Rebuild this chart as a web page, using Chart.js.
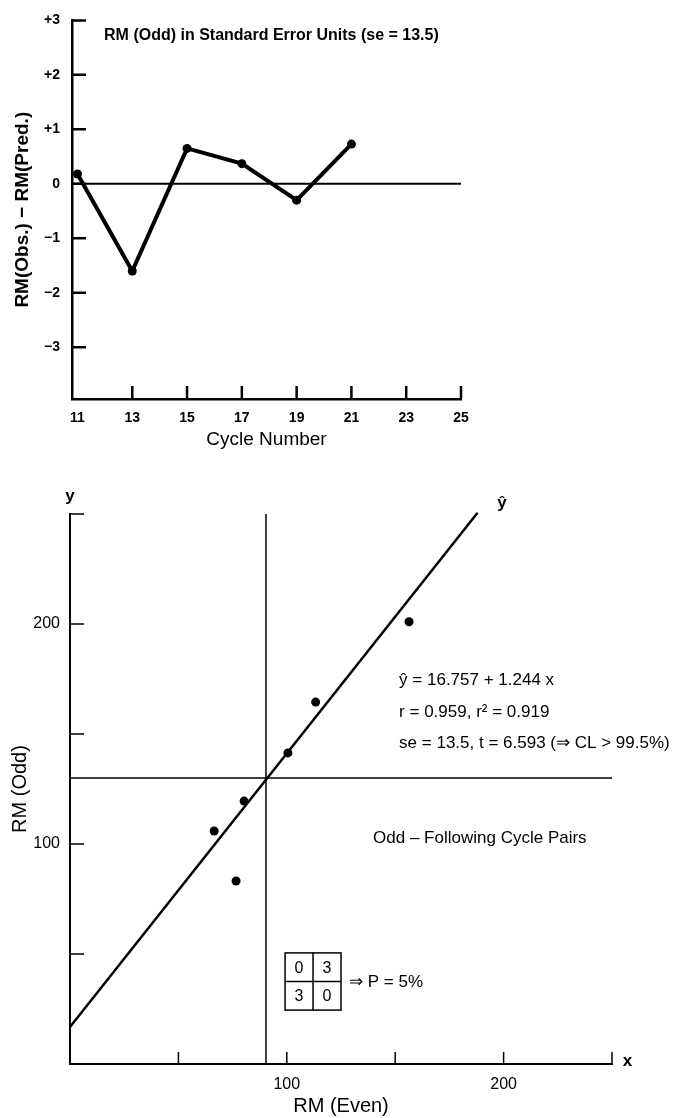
<!DOCTYPE html>
<html>
<head>
<meta charset="utf-8">
<script src="https://cdn.jsdelivr.net/npm/chart.js@4"></script>
<style>
  body { margin: 0; background: #fff; }
  canvas { position: absolute; left: 0; }
  #residual_chart { top: 0; }
  #pairs_chart { top: 455px; }
</style>
</head>
<body>
<canvas id="residual_chart" width="676" height="455"></canvas>
<canvas id="pairs_chart" width="676" height="663"></canvas>
<script>
// top panel: residuals in standard error units
const cycles = [11, 13, 15, 17, 19, 21];
const residuals = [0.18, -1.6, 0.65, 0.37, -0.3, 0.73];
const cycleTicks = [11, 13, 15, 17, 19, 21, 23, 25];
const residualTicks = [3, 2, 1, 0, -1, -2, -3];
const residualTickLabels = ['+3', '+2', '+1', '0', '−1', '−2', '−3'];

// bottom panel: RM(Odd) against RM(Even)
const rmEven = [66.5, 76.6, 80.3, 100.5, 113.3, 156.4];
const rmOdd = [105.9, 83.2, 119.5, 141.4, 164.5, 201];
const fitX = [0, 188];
const fitY = [16.8, 250.6];
const medianEven = 90.4;
const medianOdd = 130;
const rmTicks = [50, 100, 150, 200, 250];
const rmTickLabels = ['', '100', '', '200', ''];
const signTable = [[0, 3], [3, 0]];

Chart.defaults.font.family = "'Liberation Sans', Arial, sans-serif";
Chart.defaults.color = '#000';

// ticks point inwards on these plots, so draw them ourselves
const insideTicks = {
    id: 'insideTicks',
    afterDatasetsDraw(chart, args, opts) {
        const {ctx} = chart;
        const x = chart.scales.x, y = chart.scales.y;
        ctx.save();
        ctx.strokeStyle = '#000';
        ctx.lineWidth = opts.width;
        ctx.beginPath();
        x.ticks.forEach(t => {
            const px = x.getPixelForValue(t.value);
            if (px - x.left < 8) return;
            ctx.moveTo(px, x.top);
            ctx.lineTo(px, x.top - opts.xLen);
        });
        y.ticks.forEach(t => {
            const py = y.getPixelForValue(t.value);
            ctx.moveTo(y.right, py);
            ctx.lineTo(y.right + opts.yLen, py);
        });
        ctx.stroke();
        ctx.restore();
    }
};

// free text placed with the chart's own scales
const notes = {
    id: 'notes',
    afterDraw(chart, args, opts) {
        const {ctx} = chart;
        const x = chart.scales.x, y = chart.scales.y;
        ctx.save();
        ctx.fillStyle = '#000';
        ctx.textBaseline = 'middle';
        (opts.texts || []).forEach(n => {
            ctx.font = n.font;
            ctx.textAlign = n.align || 'left';
            ctx.fillText(n.text, x.getPixelForValue(n.x), y.getPixelForValue(n.y));
        });
        if (opts.table) {
            const b = opts.table;
            const l = x.getPixelForValue(b.x0), r = x.getPixelForValue(b.x1);
            const t = y.getPixelForValue(b.y0), bt = y.getPixelForValue(b.y1);
            const cw = (r - l) / 2, ch = (bt - t) / 2;
            ctx.lineWidth = 1.5;
            ctx.strokeRect(l, t, r - l, bt - t);
            ctx.beginPath();
            ctx.moveTo(l + cw, t); ctx.lineTo(l + cw, bt);
            ctx.moveTo(l, t + ch); ctx.lineTo(r, t + ch);
            ctx.stroke();
            ctx.font = '16px "Liberation Sans", Arial, sans-serif';
            ctx.textAlign = 'center';
            signTable.forEach((row, i) => row.forEach((v, j) => {
                ctx.fillText(String(v), l + cw * (j + 0.5), t + ch * (i + 0.5) + 1);
            }));
        }
        ctx.restore();
    }
};

new Chart(document.querySelector('#residual_chart'), {
    type: 'line',
    data: {
        datasets: [
            {
                data: cycles.map((c, i) => ({x: c, y: residuals[i]})),
                borderColor: '#000',
                backgroundColor: '#000',
                borderWidth: 4,
                pointRadius: 4.5,
                pointBorderWidth: 0,
                tension: 0
            },
            {
                // zero reference line
                data: [{x: 10.8, y: 0}, {x: 25, y: 0}],
                borderColor: '#000',
                borderWidth: 2,
                pointRadius: 0
            }
        ]
    },
    options: {
        responsive: false,
        animation: false,
        devicePixelRatio: 1,
        layout: {padding: {left: 0, top: 15, right: 215, bottom: 0}},
        plugins: {
            legend: false,
            tooltip: {enabled: false},
            insideTicks: {width: 2.5, xLen: 13, yLen: 14},
            notes: {
                texts: [
                    {text: 'RM (Odd) in Standard Error Units (se = 13.5)', x: 11.97, y: 2.73,
                        font: 'bold 16px "Liberation Sans", Arial, sans-serif'}
                ]
            }
        },
        scales: {
            x: {
                type: 'linear',
                min: 10.8,
                max: 25,
                afterBuildTicks: scale => { scale.ticks = cycleTicks.map(v => ({value: v})) },
                afterFit: scale => { scale.height = 56 },
                grid: {display: false},
                border: {display: true, color: '#000', width: 2.5},
                ticks: {
                    autoSkip: false,
                    maxRotation: 0,
                    padding: 3,
                    font: {size: 14, weight: 'bold'}
                },
                title: {
                    display: true,
                    text: 'Cycle Number',
                    font: {size: 19},
                    padding: {top: 0, bottom: 4}
                }
            },
            y: {
                min: -3.95,
                max: 3,
                afterBuildTicks: scale => { scale.ticks = residualTicks.map(v => ({value: v})) },
                afterFit: scale => { scale.width = 72 },
                grid: {display: false, drawTicks: false},
                border: {display: true, color: '#000', width: 2.5},
                ticks: {
                    padding: 12,
                    font: {size: 14, weight: 'bold'},
                    callback: v => residualTickLabels[residualTicks.indexOf(v)]
                },
                title: {
                    display: true,
                    text: 'RM(Obs.) − RM(Pred.)',
                    font: {size: 19, weight: 'bold'},
                    padding: {top: 11, bottom: 0}
                }
            }
        }
    },
    plugins: [insideTicks, notes]
});

new Chart(document.querySelector('#pairs_chart'), {
    type: 'scatter',
    data: {
        datasets: [
            {
                data: rmEven.map((v, i) => ({x: v, y: rmOdd[i]})),
                backgroundColor: '#000',
                borderWidth: 0,
                pointRadius: 4.5
            },
            {
                // least squares fit
                data: fitX.map((v, i) => ({x: v, y: fitY[i]})),
                showLine: true,
                borderColor: '#000',
                borderWidth: 2.5,
                pointRadius: 0,
                clip: false
            },
            {
                data: [{x: medianEven, y: 0}, {x: medianEven, y: 250}],
                showLine: true,
                borderColor: '#000',
                borderWidth: 1.5,
                pointRadius: 0
            },
            {
                data: [{x: 0, y: medianOdd}, {x: 250, y: medianOdd}],
                showLine: true,
                borderColor: '#000',
                borderWidth: 1.5,
                pointRadius: 0
            }
        ]
    },
    options: {
        responsive: false,
        animation: false,
        devicePixelRatio: 1,
        layout: {padding: {left: 0, top: 59, right: 64, bottom: 0}},
        plugins: {
            legend: false,
            tooltip: {enabled: false},
            insideTicks: {width: 1.5, xLen: 12, yLen: 14},
            notes: {
                texts: [
                    {text: 'y', x: 0, y: 258, align: 'center', font: 'bold 17px "Liberation Sans", Arial, sans-serif'},
                    {text: 'ŷ', x: 199.3, y: 255, align: 'center', font: 'bold 17px "Liberation Sans", Arial, sans-serif'},
                    {text: 'x', x: 255, y: 1.4, align: 'left', font: 'bold 17px "Liberation Sans", Arial, sans-serif'},
                    {text: 'ŷ = 16.757 + 1.244 x', x: 151.8, y: 174.5, font: '17px "Liberation Sans", Arial, sans-serif'},
                    {text: 'r = 0.959, r² = 0.919', x: 151.8, y: 160, font: '17px "Liberation Sans", Arial, sans-serif'},
                    {text: 'se = 13.5, t = 6.593 (⇒ CL > 99.5%)', x: 151.8, y: 145.9, font: '17px "Liberation Sans", Arial, sans-serif'},
                    {text: 'Odd – Following Cycle Pairs', x: 139.8, y: 102.7, font: '17px "Liberation Sans", Arial, sans-serif'},
                    {text: '⇒ P = 5%', x: 128.7, y: 37.3, font: '17px "Liberation Sans", Arial, sans-serif'}
                ],
                table: {x0: 99.2, x1: 125, y0: 50.5, y1: 24.5}
            }
        },
        scales: {
            x: {
                type: 'linear',
                min: 0,
                max: 250,
                afterBuildTicks: scale => { scale.ticks = rmTicks.map(v => ({value: v})) },
                afterFit: scale => { scale.height = 54 },
                grid: {display: false},
                border: {display: true, color: '#000', width: 2},
                ticks: {
                    autoSkip: false,
                    maxRotation: 0,
                    padding: 3,
                    font: {size: 16},
                    callback: v => rmTickLabels[rmTicks.indexOf(v)]
                },
                title: {
                    display: true,
                    text: 'RM (Even)',
                    font: {size: 20},
                    padding: {top: 0, bottom: 0}
                }
            },
            y: {
                min: 0,
                max: 250,
                afterBuildTicks: scale => { scale.ticks = rmTicks.map(v => ({value: v})) },
                afterFit: scale => { scale.width = 70 },
                grid: {display: false, drawTicks: false},
                border: {display: true, color: '#000', width: 2},
                ticks: {
                    padding: 10,
                    font: {size: 16},
                    callback: v => rmTickLabels[rmTicks.indexOf(v)]
                },
                title: {
                    display: true,
                    text: 'RM (Odd)',
                    font: {size: 20},
                    padding: {top: 8, bottom: 0}
                }
            }
        }
    },
    plugins: [insideTicks, notes]
});
</script>
</body>
</html>
